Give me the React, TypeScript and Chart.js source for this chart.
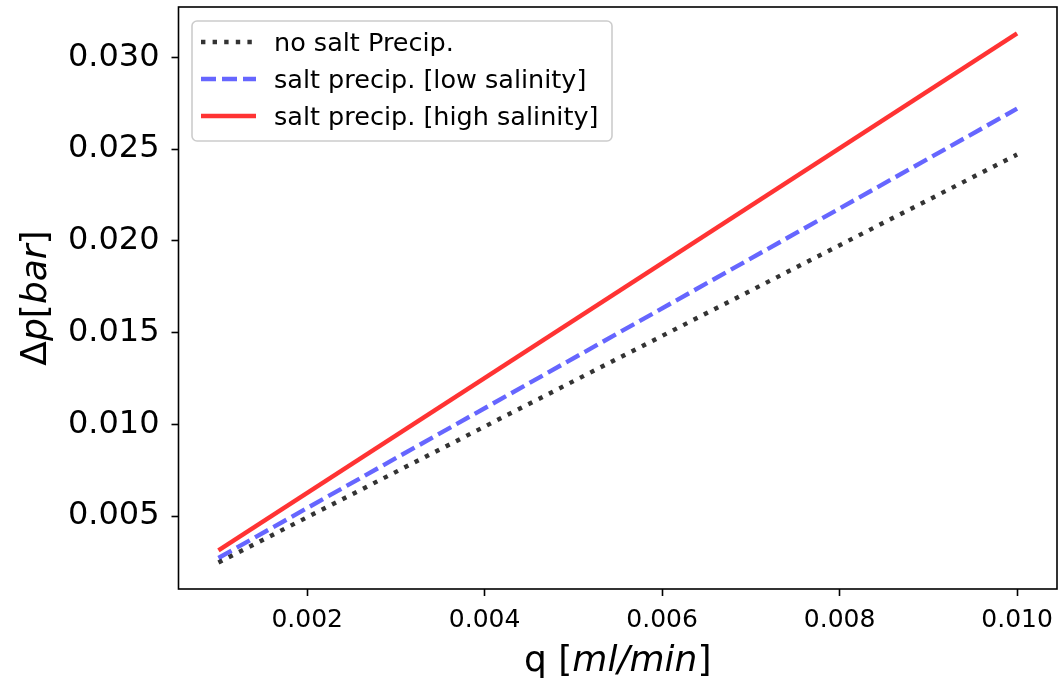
import { useEffect, useRef } from "react";
import { Chart, registerables } from "chart.js";

Chart.register(...registerables);

// Flow rate q [ml/min] and pressure drop Δp [bar] for each case
const flowRates = [0.001, 0.01];
const noSaltDp = [0.00247, 0.0247];
const lowSalinityDp = [0.00272, 0.0272];
const highSalinityDp = [0.00313, 0.0313];

const seriesLabels = [
  "no salt Precip.",
  "salt precip. [low salinity]",
  "salt precip. [high salinity]",
];

const xTickValues = [0.002, 0.004, 0.006, 0.008, 0.01];
const yTickValues = [0.005, 0.01, 0.015, 0.02, 0.025, 0.03];

const FONT = '"DejaVu Sans", sans-serif';
const LINE_WIDTH = 4.4;

const styles = [
  { color: "rgba(0,0,0,0.8)", dash: [4.4, 7.2] },
  { color: "rgba(0,0,255,0.6)", dash: [15, 6] },
  { color: "rgba(255,0,0,0.8)", dash: [] as number[] },
];

type Part = [string, boolean];

function drawParts(ctx: CanvasRenderingContext2D, parts: Part[], size: number, cx: number, baseline: number) {
  const fontFor = (it: boolean) => `${it ? "italic " : ""}${size}px ${FONT}`;
  let total = 0;
  const widths = parts.map(([t, it]) => {
    ctx.font = fontFor(it);
    const w = ctx.measureText(t).width;
    total += w;
    return w;
  });
  let x = cx - total / 2;
  ctx.textAlign = "left";
  ctx.textBaseline = "alphabetic";
  ctx.fillStyle = "#000";
  parts.forEach(([t, it], i) => {
    ctx.font = fontFor(it);
    ctx.fillText(t, x, baseline);
    x += widths[i];
  });
}

const decorations = {
  id: "decorations",
  afterDraw(chart: Chart) {
    const ctx = chart.ctx;
    const a = chart.chartArea;
    ctx.save();

    // axes frame
    ctx.strokeStyle = "#000";
    ctx.lineWidth = 1.6;
    ctx.strokeRect(a.left, a.top, a.right - a.left, a.bottom - a.top);

    // axis titles
    drawParts(ctx, [["q [", false], ["ml/min", true], ["]", false]], 36, (a.left + a.right) / 2, 671);
    ctx.save();
    ctx.translate(46, (a.top + a.bottom) / 2);
    ctx.rotate(-Math.PI / 2);
    drawParts(ctx, [["Δ", false], ["p", true], ["[", false], ["bar", true], ["]", false]], 36, 0, 0);
    ctx.restore();

    // legend
    const bx = 192, by = 21, bw = 420, bh = 120;
    ctx.beginPath();
    ctx.roundRect(bx, by, bw, bh, 5);
    ctx.fillStyle = "rgba(255,255,255,0.8)";
    ctx.fill();
    ctx.strokeStyle = "#cccccc";
    ctx.lineWidth = 1.6;
    ctx.stroke();

    const rows = [42, 79, 116];
    seriesLabels.forEach((label, i) => {
      const y = rows[i];
      ctx.beginPath();
      ctx.setLineDash(styles[i].dash);
      ctx.lineCap = "butt";
      ctx.strokeStyle = styles[i].color;
      ctx.lineWidth = LINE_WIDTH;
      ctx.moveTo(201, y);
      ctx.lineTo(256, y);
      ctx.stroke();
      ctx.setLineDash([]);
      ctx.font = `25.5px ${FONT}`;
      ctx.fillStyle = "#000";
      ctx.textAlign = "left";
      ctx.textBaseline = "alphabetic";
      ctx.fillText(label, 274, y + 9);
    });

    ctx.restore();
  },
};

export default function App() {
  const canvasRef = useRef<HTMLCanvasElement | null>(null);

  useEffect(() => {
    const canvas = canvasRef.current;
    if (!canvas) return;
    const seriesValues = [noSaltDp, lowSalinityDp, highSalinityDp];
    const chart = new Chart(canvas, {
      type: "line",
      data: {
        datasets: seriesValues.map((vals, i) => ({
          label: seriesLabels[i],
          data: flowRates.map((q, j) => ({ x: q, y: vals[j] })),
          borderColor: styles[i].color,
          borderDash: styles[i].dash,
          borderWidth: LINE_WIDTH,
          borderCapStyle: "butt" as const,
          pointRadius: 0,
          fill: false,
          tension: 0,
          order: 2 - i,
        })),
      },
      options: {
        animation: false,
        responsive: false,
        devicePixelRatio: 1,
        layout: { padding: { left: 0, top: 7, right: 4, bottom: 0 } },
        plugins: { legend: { display: false }, tooltip: { enabled: false } },
        scales: {
          x: {
            type: "linear",
            min: 0.00055,
            max: 0.01045,
            afterBuildTicks: (s: any) => {
              s.ticks = xTickValues.map((v) => ({ value: v }));
            },
            afterFit: (s: any) => {
              s.height = 94;
              s.paddingLeft = 0;
              s.paddingRight = 0;
            },
            ticks: {
              callback: (v: any) => Number(v).toFixed(3),
              font: { family: FONT, size: 25 },
              color: "#000",
              padding: 9,
              maxRotation: 0,
              autoSkip: false,
            },
            grid: {
              display: true,
              drawOnChartArea: false,
              drawTicks: true,
              tickLength: 7,
              tickWidth: 1.6,
              tickColor: "#000",
              color: "#000",
            },
            border: { display: false },
          },
          y: {
            type: "linear",
            min: 0.00103,
            max: 0.03274,
            afterBuildTicks: (s: any) => {
              s.ticks = yTickValues.map((v) => ({ value: v }));
            },
            afterFit: (s: any) => {
              s.width = 178.5;
              s.paddingTop = 0;
              s.paddingBottom = 0;
            },
            ticks: {
              callback: (v: any) => Number(v).toFixed(3),
              font: { family: FONT, size: 32 },
              color: "#000",
              padding: 12,
              autoSkip: false,
            },
            grid: {
              display: true,
              drawOnChartArea: false,
              drawTicks: true,
              tickLength: 7,
              tickWidth: 1.6,
              tickColor: "#000",
              color: "#000",
            },
            border: { display: false },
          },
        },
      },
      plugins: [decorations],
    });
    return () => chart.destroy();
  }, []);

  return (
    <div style={{ position: "fixed", left: 0, top: 0, width: 1061, height: 683, background: "#fff" }}>
      <canvas ref={canvasRef} width={1061} height={683} style={{ display: "block" }} />
    </div>
  );
}
